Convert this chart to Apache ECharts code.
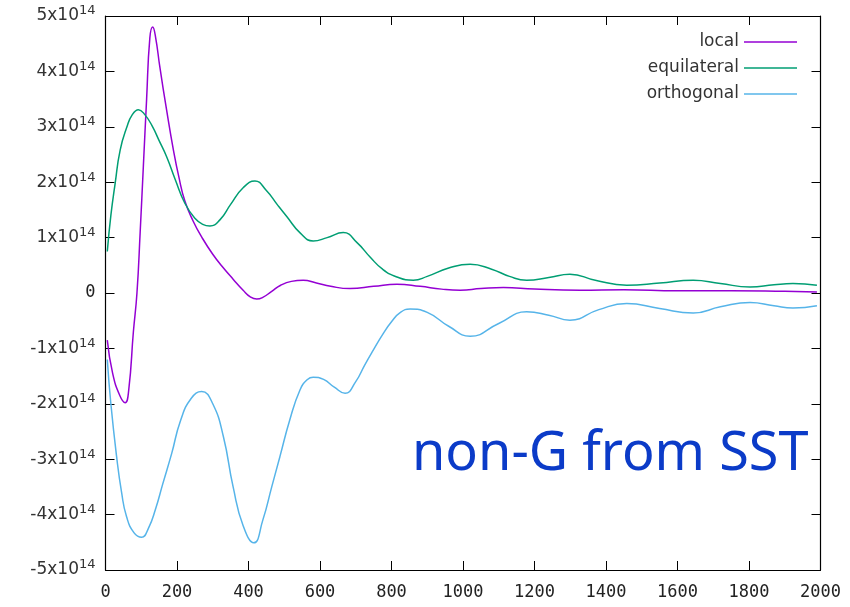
<!DOCTYPE html>
<html>
<head>
<meta charset="utf-8">
<script src="https://cdn.jsdelivr.net/npm/echarts@6/dist/echarts.min.js"></script>
<style>
  html, body { margin: 0; padding: 0; background: #fff; }
  #main { width: 850px; height: 607px; }
</style>
</head>
<body>
<div id="main"></div>
<script>
// values in units of 1e14
var localData = [[5,-0.85],[20,-1.45],[40,-1.85],[55,-1.98],[65,-1.75],[78,-0.7],[88,0.0],[97,1.1],[106,2.3],[115,3.5],[124,4.6],
  [132,4.8],[140,4.62],[152,4.08],[171,3.3],[190,2.58],[205,2.1],[222,1.66],[245,1.3],[270,1.0],[300,0.7],[330,0.45],[357,0.25],
  [385,0.05],[405,-0.07],[423,-0.11],[440,-0.08],[465,0.03],[490,0.14],[520,0.21],[553,0.23],[590,0.18],[630,0.12],[684,0.08],[750,0.12],
  [815,0.16],[880,0.12],[940,0.07],[992,0.05],[1050,0.08],[1113,0.1],[1200,0.07],[1327,0.05],[1450,0.06],[1600,0.04],
  [1750,0.04],[1900,0.03],[1990,0.02]];
var equilData = [[5,0.75],[15,1.4],[27,1.98],[41,2.58],[60,3.0],[75,3.22],[92,3.31],[110,3.22],[130,3.02],[150,2.75],
  [171,2.46],[195,2.05],[222,1.62],[250,1.35],[272,1.24],[292,1.21],[320,1.32],[350,1.6],[385,1.9],[418,2.02],[450,1.85],
  [480,1.6],[507,1.38],[545,1.08],[581,0.94],[620,1.0],[665,1.09],[705,0.9],[740,0.65],[775,0.43],[815,0.29],[861,0.23],[900,0.3],[960,0.45],
  [1020,0.52],[1080,0.43],[1130,0.3],[1178,0.23],[1240,0.28],[1299,0.34],[1370,0.23],[1458,0.14],[1550,0.18],[1644,0.23],
  [1720,0.17],[1803,0.11],[1870,0.15],[1923,0.17],[1990,0.14]];
var orthoData = [[5,-1.2],[15,-2.0],[31,-2.95],[45,-3.6],[59,-4.04],[80,-4.33],[101,-4.41],[120,-4.25],[140,-3.9],[160,-3.45],
  [185,-2.9],[210,-2.3],[240,-1.9],[269,-1.78],[300,-2.0],[330,-2.6],[357,-3.5],[385,-4.2],[415,-4.51],[440,-4.1],[465,-3.5],
  [488,-2.95],[515,-2.3],[544,-1.75],[565,-1.56],[581,-1.52],[610,-1.56],[640,-1.7],[670,-1.81],[700,-1.6],[725,-1.3],[749,-1.03],
  [775,-0.75],[800,-0.52],[825,-0.35],[852,-0.29],[900,-0.35],[960,-0.6],[1020,-0.78],[1100,-0.55],[1178,-0.34],[1240,-0.4],
  [1299,-0.49],[1380,-0.3],[1458,-0.19],[1550,-0.28],[1644,-0.36],[1720,-0.25],[1803,-0.17],[1870,-0.23],[1923,-0.27],[1990,-0.23]];
var seriesNames = ['local', 'equilateral', 'orthogonal'];
var seriesColors = ['#9400d3', '#009e73', '#56b4e9'];

function scale(arr) {
  return arr.map(function (p) { return [p[0], p[1] * 1e14]; });
}

var myChart = echarts.init(document.getElementById('main'));
var tickStyle = { show: true, inside: true, length: 9, lineStyle: { color: '#000', width: 1 } };
var lineStyle = { show: true, onZero: false, lineStyle: { color: '#000', width: 1.2 } };

var option = {
  animation: false,
  backgroundColor: '#fff',
  grid: { left: 105.5, right: 29.5, top: 16, bottom: 37 },
  legend: {
    orient: 'vertical',
    right: 48,
    top: 28,
    align: 'right',
    icon: 'rect',
    itemWidth: 53,
    itemHeight: 1.5,
    itemGap: 8,
    textStyle: { fontSize: 17, color: '#333', fontFamily: 'DejaVu Sans', lineHeight: 18 },
    data: seriesNames
  },
  xAxis: [{
    type: 'value', min: 0, max: 2000, interval: 200,
    axisLine: lineStyle, axisTick: tickStyle, splitLine: { show: false },
    axisLabel: {
      fontSize: 17, color: '#222', fontFamily: 'DejaVu Sans Mono', margin: 14,
      formatter: function (v) { return String(v); }
    }
  }, {
    type: 'value', min: 0, max: 2000, interval: 200, position: 'top',
    axisLine: lineStyle, axisTick: tickStyle, splitLine: { show: false },
    axisLabel: { show: false }
  }],
  yAxis: [{
    type: 'value', min: -5e14, max: 5e14, interval: 1e14,
    axisLine: lineStyle, axisTick: tickStyle, splitLine: { show: false },
    axisLabel: {
      margin: 10,
      formatter: function (v) {
        var n = Math.round(v / 1e14);
        if (n === 0) return '{m|0}';
        return '{a|' + n + 'x10}{b|14}';
      },
      rich: {
        a: { fontSize: 17, color: '#333', fontFamily: 'DejaVu Sans' },
        b: { fontSize: 13, color: '#333', fontFamily: 'DejaVu Sans', padding: [0, 0, 10, 0] },
        m: { fontSize: 17, color: '#222', fontFamily: 'DejaVu Sans Mono' }
      }
    }
  }, {
    type: 'value', min: -5e14, max: 5e14, interval: 1e14, position: 'right',
    axisLine: lineStyle, axisTick: tickStyle, splitLine: { show: false },
    axisLabel: { show: false }
  }],
  series: [localData, equilData, orthoData].map(function (d, i) {
    return {
      name: seriesNames[i],
      type: 'line',
      smooth: 0.5,
      symbol: 'none',
      data: scale(d),
      itemStyle: { color: seriesColors[i] },
      lineStyle: { color: seriesColors[i], width: 1.5 }
    };
  }),
  graphic: {
    elements: [{
      type: 'text',
      left: 412,
      top: 428,
      style: {
        text: 'non-G from SST',
        font: '54px "Noto Sans"',
        fill: '#0b3bc8'
      },
      z: 100
    }]
  }
};
myChart.setOption(option);
</script>
</body>
</html>
